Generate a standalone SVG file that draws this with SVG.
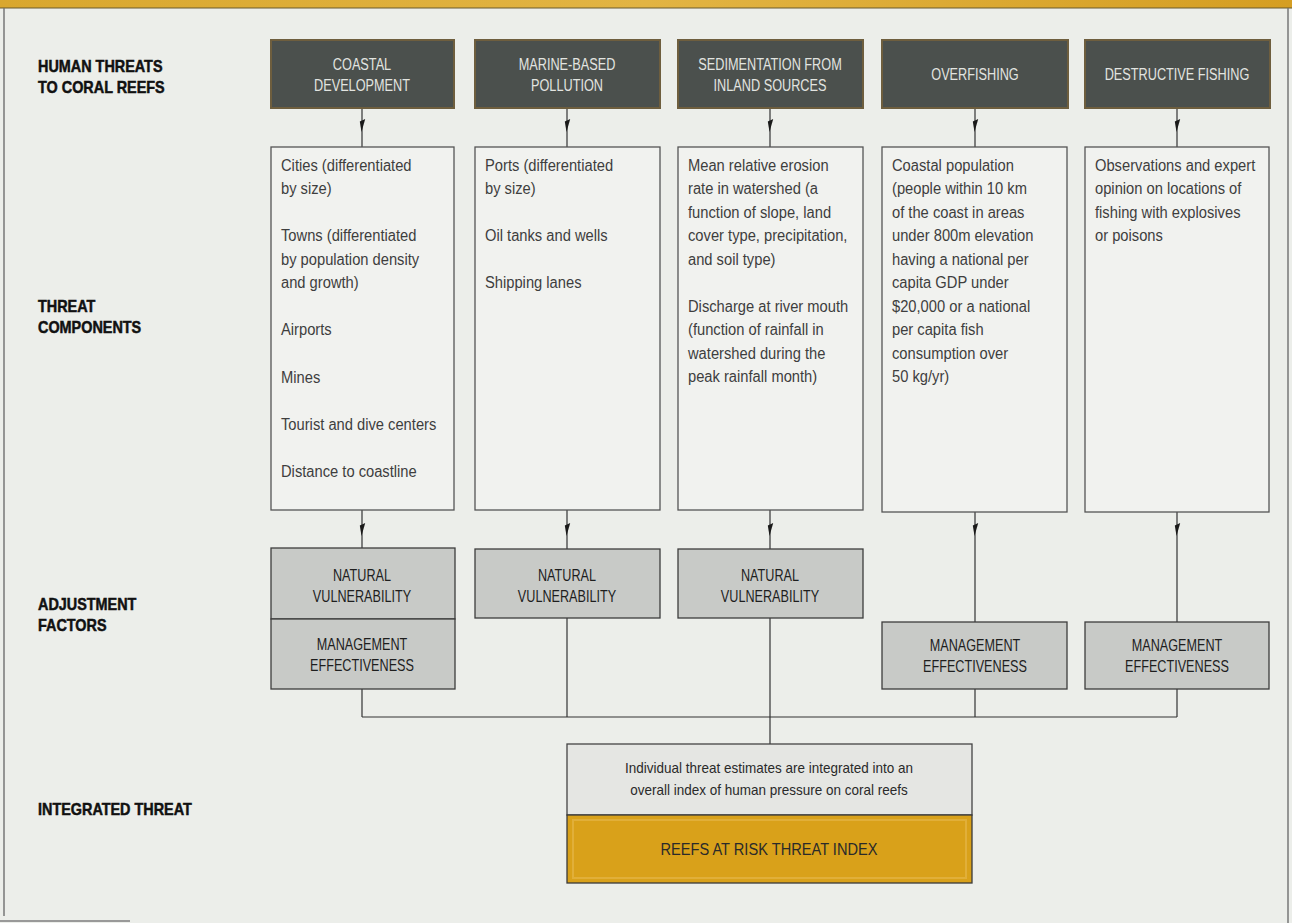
<svg xmlns="http://www.w3.org/2000/svg" width="1292" height="923" viewBox="0 0 1292 923">
<defs>
<style>
.lbl{font-family:"Liberation Sans",Arial,sans-serif;font-weight:bold;font-size:16px;fill:#111;stroke:#111;stroke-width:0.5}
.hdr rect{fill:#4b504d;stroke:#6e5e3e;stroke-width:2}
.hdr text{font-family:"Liberation Sans",Arial,sans-serif;font-size:16.5px;fill:#e2e4e0;text-anchor:middle}
.cmp rect{fill:#f1f2ef;stroke:#555;stroke-width:1.3}
.cmp text{font-family:"Liberation Sans",Arial,sans-serif;font-size:16px;fill:#3e3e3e}
.adj rect{fill:#c8cac7;stroke:#3d3d3d;stroke-width:1.3}
.adj text{font-family:"Liberation Sans",Arial,sans-serif;font-size:16px;fill:#1e1e1e;text-anchor:middle}
.conn path{fill:none;stroke:#333;stroke-width:1.2;marker-mid:url(#ah)}
.conn line{stroke:#333;stroke-width:1.2}
.int text{font-family:"Liberation Sans",Arial,sans-serif;text-anchor:middle;fill:#2a2a2a}
</style>
<marker id="ah" viewBox="-14 -5 15 10" refX="0" refY="0" markerWidth="15" markerHeight="10" markerUnits="userSpaceOnUse" orient="auto">
<path d="M-13,-3.2 L-10.5,2.2 L0,0.5 Z" fill="#1a1a1a"/>
</marker>
<linearGradient id="gold" x1="0" y1="0" x2="1" y2="0">
<stop offset="0" stop-color="#d9a72e"/>
<stop offset="0.5" stop-color="#e2b443"/>
<stop offset="1" stop-color="#d59e22"/>
</linearGradient>
</defs>
<rect x="0" y="0" width="1292" height="923" fill="#eceeea"/>
<rect x="0" y="0" width="1292" height="8" fill="url(#gold)"/>
<line x1="0" y1="8" x2="1292" y2="8" stroke="#6b5a2c" stroke-width="1.2"/>
<line x1="4" y1="8" x2="4" y2="916" stroke="#777" stroke-width="1.5"/>
<line x1="1288" y1="8" x2="1288" y2="923" stroke="#777" stroke-width="1.5"/>
<line x1="0" y1="921" x2="130" y2="921" stroke="#999" stroke-width="2"/>

<g id="side-labels" class="lbl">
<text transform="translate(38 0) scale(0.9 1)" x="0" y="72">HUMAN THREATS</text>
<text transform="translate(38 0) scale(0.9 1)" x="0" y="93">TO CORAL REEFS</text>
<text transform="translate(38 0) scale(0.9 1)" x="0" y="312">THREAT</text>
<text transform="translate(38 0) scale(0.9 1)" x="0" y="333">COMPONENTS</text>
<text transform="translate(38 0) scale(0.9 1)" x="0" y="610">ADJUSTMENT</text>
<text transform="translate(38 0) scale(0.9 1)" x="0" y="631">FACTORS</text>
<text transform="translate(38 0) scale(0.9 1)" x="0" y="815">INTEGRATED THREAT</text>
</g>

<g id="connectors" class="conn">
<path d="M362,108 L362,132 L362,147"/>
<path d="M567,108 L567,132 L567,147"/>
<path d="M770,108 L770,132 L770,147"/>
<path d="M975,108 L975,132 L975,147"/>
<path d="M1177,108 L1177,132 L1177,147"/>
<path d="M362,510 L362,536 L362,548"/>
<path d="M567,510 L567,536 L567,549"/>
<path d="M770,510 L770,536 L770,549"/>
<path d="M975,512 L975,536 L975,622"/>
<path d="M1177,512 L1177,536 L1177,622"/>
<line x1="362" y1="689" x2="362" y2="717"/>
<line x1="567" y1="618" x2="567" y2="717"/>
<line x1="770" y1="618" x2="770" y2="744"/>
<line x1="975" y1="689" x2="975" y2="717"/>
<line x1="1177" y1="689" x2="1177" y2="717"/>
<line x1="362" y1="717" x2="1177" y2="717"/>
</g>

<g id="h-coastal" class="hdr"><rect x="271" y="40" width="183" height="68"/><text transform="translate(362 0) scale(0.77 1)" x="0" y="70">COASTAL</text><text transform="translate(362 0) scale(0.77 1)" x="0" y="91">DEVELOPMENT</text></g>
<g id="h-marine" class="hdr"><rect x="475" y="40" width="185" height="68"/><text transform="translate(567 0) scale(0.77 1)" x="0" y="70">MARINE-BASED</text><text transform="translate(567 0) scale(0.77 1)" x="0" y="91">POLLUTION</text></g>
<g id="h-sediment" class="hdr"><rect x="678" y="40" width="185" height="68"/><text transform="translate(770 0) scale(0.77 1)" x="0" y="70">SEDIMENTATION FROM</text><text transform="translate(770 0) scale(0.77 1)" x="0" y="91">INLAND SOURCES</text></g>
<g id="h-overfishing" class="hdr"><rect x="882" y="40" width="186" height="68"/><text transform="translate(975 0) scale(0.77 1)" x="0" y="80">OVERFISHING</text></g>
<g id="h-destructive" class="hdr"><rect x="1085" y="40" width="185" height="68"/><text transform="translate(1177 0) scale(0.77 1)" x="0" y="80">DESTRUCTIVE FISHING</text></g>

<g id="c-coastal" class="cmp"><rect x="271" y="147" width="183" height="363"/>
<g transform="translate(281 0) scale(0.92 1)">
<text x="0" y="171">Cities (differentiated</text>
<text x="0" y="194">by size)</text>
<text x="0" y="241">Towns (differentiated</text>
<text x="0" y="265">by population density</text>
<text x="0" y="288">and growth)</text>
<text x="0" y="335">Airports</text>
<text x="0" y="383">Mines</text>
<text x="0" y="430">Tourist and dive centers</text>
<text x="0" y="477">Distance to coastline</text>
</g></g>
<g id="c-marine" class="cmp"><rect x="475" y="147" width="185" height="363"/>
<g transform="translate(485 0) scale(0.92 1)">
<text x="0" y="171">Ports (differentiated</text>
<text x="0" y="194">by size)</text>
<text x="0" y="241">Oil tanks and wells</text>
<text x="0" y="288">Shipping lanes</text>
</g></g>
<g id="c-sediment" class="cmp"><rect x="678" y="147" width="185" height="363"/>
<g transform="translate(688 0) scale(0.92 1)">
<text x="0" y="171">Mean relative erosion</text>
<text x="0" y="194">rate in watershed (a</text>
<text x="0" y="218">function of slope, land</text>
<text x="0" y="241">cover type, precipitation,</text>
<text x="0" y="265">and soil type)</text>
<text x="0" y="312">Discharge at river mouth</text>
<text x="0" y="335">(function of rainfall in</text>
<text x="0" y="359">watershed during the</text>
<text x="0" y="382">peak rainfall month)</text>
</g></g>
<g id="c-overfishing" class="cmp"><rect x="882" y="147" width="185" height="365"/>
<g transform="translate(892 0) scale(0.92 1)">
<text x="0" y="171">Coastal population</text>
<text x="0" y="194">(people within 10 km</text>
<text x="0" y="218">of the coast in areas</text>
<text x="0" y="241">under 800m elevation</text>
<text x="0" y="265">having a national per</text>
<text x="0" y="288">capita GDP under</text>
<text x="0" y="312">$20,000 or a national</text>
<text x="0" y="335">per capita fish</text>
<text x="0" y="359">consumption over</text>
<text x="0" y="382">50 kg/yr)</text>
</g></g>
<g id="c-destructive" class="cmp"><rect x="1085" y="147" width="184" height="365"/>
<g transform="translate(1095 0) scale(0.92 1)">
<text x="0" y="171">Observations and expert</text>
<text x="0" y="194">opinion on locations of</text>
<text x="0" y="218">fishing with explosives</text>
<text x="0" y="241">or poisons</text>
</g></g>

<g id="a-coastal-nv" class="adj"><rect x="271" y="548" width="184" height="71"/><g transform="translate(362 0) scale(0.79 1)"><text x="0" y="581">NATURAL</text><text x="0" y="602">VULNERABILITY</text></g></g>
<g id="a-coastal-me" class="adj"><rect x="271" y="619" width="184" height="70"/><g transform="translate(362 0) scale(0.79 1)"><text x="0" y="650">MANAGEMENT</text><text x="0" y="671">EFFECTIVENESS</text></g></g>
<g id="a-marine-nv" class="adj"><rect x="475" y="549" width="185" height="69"/><g transform="translate(567 0) scale(0.79 1)"><text x="0" y="581">NATURAL</text><text x="0" y="602">VULNERABILITY</text></g></g>
<g id="a-sediment-nv" class="adj"><rect x="678" y="549" width="185" height="69"/><g transform="translate(770 0) scale(0.79 1)"><text x="0" y="581">NATURAL</text><text x="0" y="602">VULNERABILITY</text></g></g>
<g id="a-overfishing-me" class="adj"><rect x="882" y="622" width="185" height="67"/><g transform="translate(975 0) scale(0.79 1)"><text x="0" y="651">MANAGEMENT</text><text x="0" y="672">EFFECTIVENESS</text></g></g>
<g id="a-destructive-me" class="adj"><rect x="1085" y="622" width="184" height="67"/><g transform="translate(1177 0) scale(0.79 1)"><text x="0" y="651">MANAGEMENT</text><text x="0" y="672">EFFECTIVENESS</text></g></g>

<g id="integrated" class="int">
<rect x="567" y="744" width="405" height="71" fill="#e5e6e3" stroke="#444" stroke-width="1.3"/>
<g transform="translate(769 0) scale(0.9 1)">
<text x="0" y="773" font-size="15">Individual threat estimates are integrated into an</text>
<text x="0" y="795" font-size="15">overall index of human pressure on coral reefs</text>
</g>
</g>
<g id="index" class="int">
<rect x="567" y="815" width="405" height="68" fill="#d9a11a" stroke="#3a3a3a" stroke-width="1.3"/>
<rect x="573" y="820" width="393" height="58" fill="none" stroke="#e6b94e" stroke-width="2" opacity="0.6"/>
<text transform="translate(769 0) scale(0.86 1)" x="0" y="855" font-size="17" fill="#2a1e08">REEFS AT RISK THREAT INDEX</text>
</g>
</svg>
